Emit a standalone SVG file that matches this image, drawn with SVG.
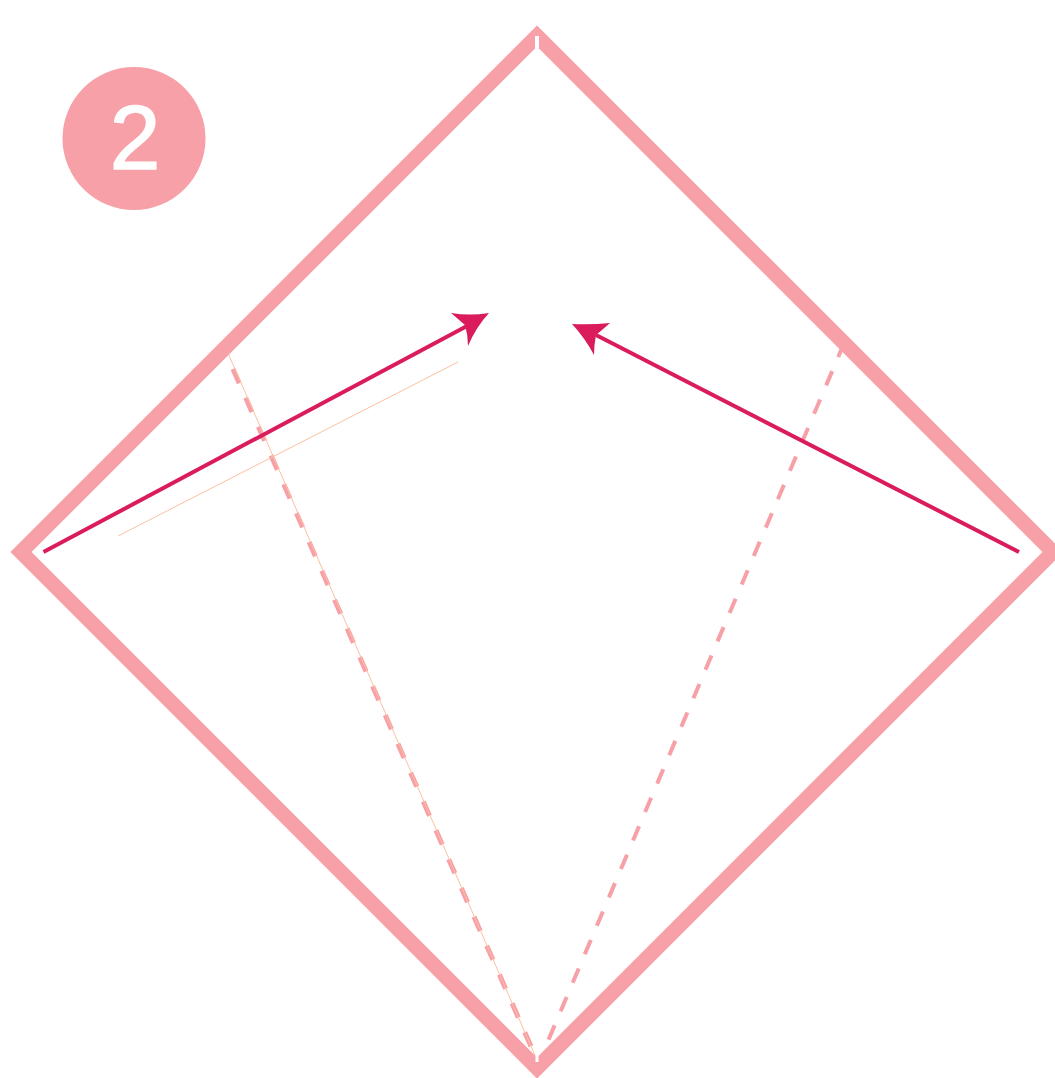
<svg xmlns="http://www.w3.org/2000/svg" width="1055" height="1078" viewBox="0 0 1055 1078">
<style>
.thin{fill:none;stroke:#fcc0a0;stroke-width:1}
.dash{fill:none;stroke:#f7a0a7;stroke-width:5;stroke-dasharray:15.5 16}
.dash2{fill:none;stroke:#f7a0a7;stroke-width:4;stroke-dasharray:15.5 15.4}
.move{fill:none;stroke:#da1c5c;stroke-width:4}
.head{fill:#da1c5c}
.notch{fill:#fff}
</style>
<rect width="1055" height="1078" fill="#fff"/>
<g id="connectors">
<path class="dash" d="M233 369L537 1060"/>
<path class="dash2" stroke-dashoffset="5.8" d="M842 348L545 1048"/>
<path class="thin" d="M228 353L537 1060"/>
<path class="thin" d="M118 536L458 362"/>
<path class="move" d="M43.500 552L467 326"/>
<path class="move" d="M1019 552L596 335"/>
<path class="head" d="M451 313Q470 316 489 313Q476 327 468 346Q468 335 465 325Z"/>
<path class="head" d="M572 324Q591 325 610 323Q601 331 596 335Q594 345 594 355Q585 338 572 324Z"/>
</g>
<g id="square">
<path d="M537 36L1053 552L537 1068L21 552Z" fill="none" stroke="#f7a0a7" stroke-width="15" stroke-miterlimit="10"/>
<rect class="notch" x="535" y="36" width="4" height="12"/>
<rect class="notch" x="535.5" y="1055" width="3" height="7"/>
</g>
<g id="badge">
<circle cx="134" cy="138.500" r="71.500" fill="#f7a0a7"/>
<text x="135" y="168.500" text-anchor="middle" font-family="'Liberation Sans',Arial,sans-serif" font-size="91" fill="#fff" stroke="#fff" stroke-width="1.500">2</text>
</g>
</svg>
